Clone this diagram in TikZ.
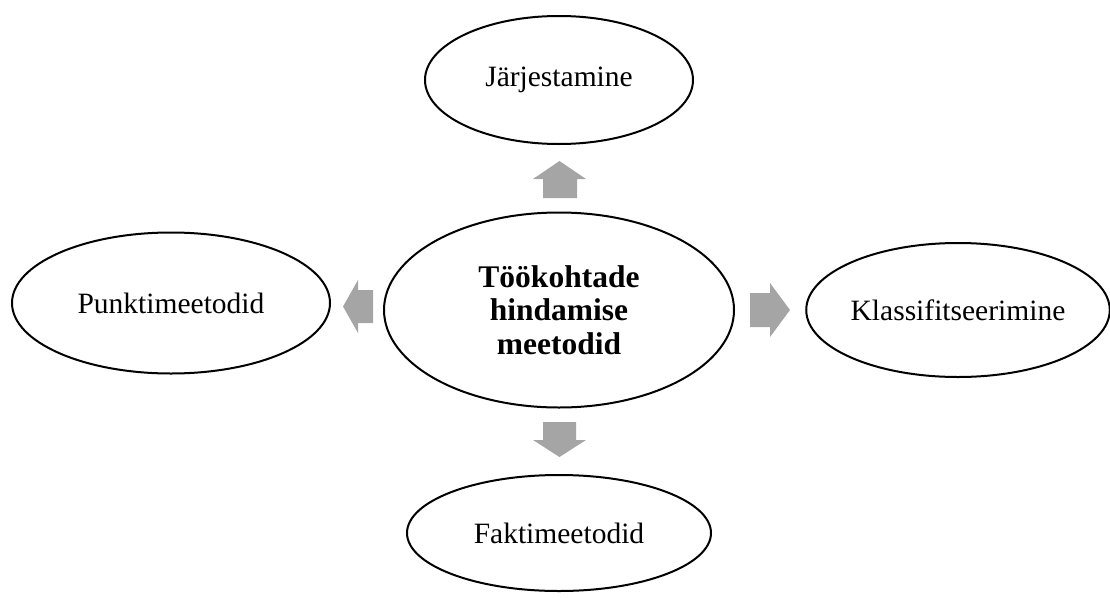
\documentclass[tikz,border=0pt]{standalone}
\usepackage{fontspec}
\setmainfont{Liberation Serif}
\usetikzlibrary{shapes.geometric}
\definecolor{arrowgray}{HTML}{A5A5A5}
\tikzset{
  oval/.style={ellipse, draw=black, line width=2pt, inner sep=0pt, fill=white,
    font=\fontsize{29.5}{33}\selectfont},
  blockarrow/.style={fill=arrowgray, draw=none}
}
\begin{document}
\begin{tikzpicture}[x=1pt,y=-1pt]
\useasboundingbox (0,0) rectangle (1110,597);
\node[oval, minimum width=350, minimum height=195, align=center,
  font=\fontsize{31.5}{33.5}\selectfont\bfseries] (c) at (559,310) {Töökohtade\\hindamise\\meetodid};
\node[oval, minimum width=268, minimum height=128] (t) at (559,80) {Järjestamine};
\node[oval, minimum width=318, minimum height=141] (l) at (171,303) {Punktimeetodid};
\node[oval, minimum width=300, minimum height=134] (r) at (958,310) {Klassifitseerimine};
\node[oval, minimum width=304, minimum height=116] (b) at (559,533) {Faktimeetodid};
% block arrows
\fill[blockarrow] (543,198) -- (543,179) -- (533,179) -- (559.5,161) -- (586,179) -- (577,179) -- (577,198) -- cycle;
\fill[blockarrow] (543,422) -- (576,422) -- (576,440) -- (586,440) -- (559.5,457) -- (533,440) -- (543,440) -- cycle;
\fill[blockarrow] (373,290) -- (358,290) -- (358,280) -- (343,306.5) -- (358,333) -- (358,323) -- (373,323) -- cycle;
\fill[blockarrow] (750,293) -- (770,293) -- (770,283) -- (790,310) -- (770,337) -- (770,327) -- (750,327) -- cycle;
\end{tikzpicture}
\end{document}
